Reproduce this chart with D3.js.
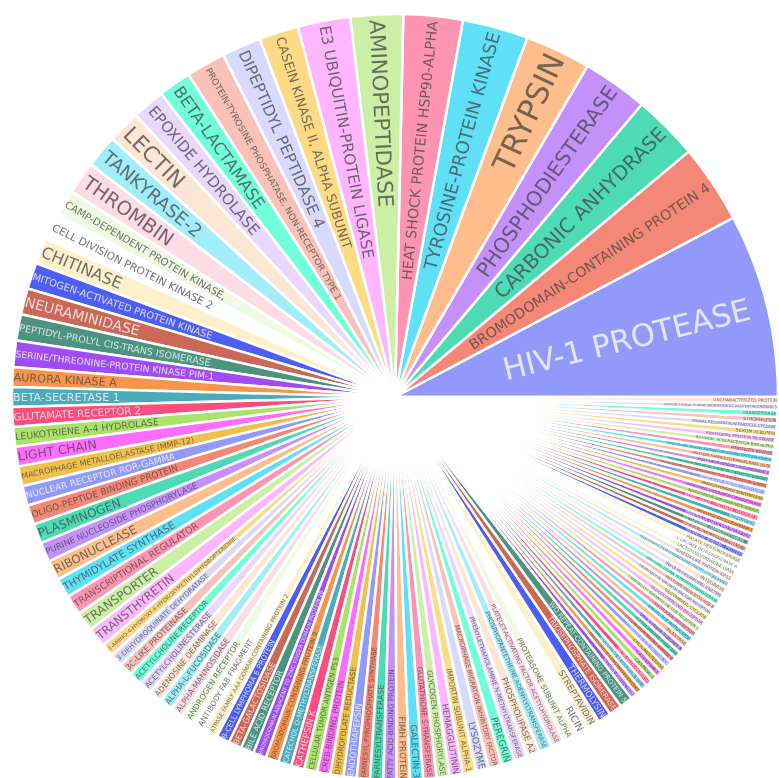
<!DOCTYPE html>
<html><head><meta charset="utf-8">
<script src="https://cdn.jsdelivr.net/npm/d3@7"></script>
<style>html,body{margin:0;padding:0;background:#fff;overflow:hidden}svg{display:block}text{font-family:"DejaVu Sans",Verdana,sans-serif}</style>
</head><body><svg id="c" width="779" height="778"></svg>
<script>
const labels = ["HIV-1 PROTEASE","BROMODOMAIN-CONTAINING PROTEIN 4","CARBONIC ANHYDRASE","PHOSPHODIESTERASE","TRYPSIN","TYROSINE-PROTEIN KINASE","HEAT SHOCK PROTEIN HSP90-ALPHA","AMINOPEPTIDASE","E3 UBIQUITIN-PROTEIN LIGASE","CASEIN KINASE II, ALPHA SUBUNIT","DIPEPTIDYL PEPTIDASE 4","PROTEIN-TYROSINE PHOSPHATASE, NON-RECEPTOR TYPE 1","BETA-LACTAMASE","EPOXIDE HYDROLASE","LECTIN","TANKYRASE-2","THROMBIN","CAMP-DEPENDENT PROTEIN KINASE,","CELL DIVISION PROTEIN KINASE 2","CHITINASE","MITOGEN-ACTIVATED PROTEIN KINASE","NEURAMINIDASE","PEPTIDYL-PROLYL CIS-TRANS ISOMERASE","SERINE/THREONINE-PROTEIN KINASE PIM-1","AURORA KINASE A","BETA-SECRETASE 1","GLUTAMATE RECEPTOR 2","LEUKOTRIENE A-4 HYDROLASE","LIGHT CHAIN","MACROPHAGE METALLOELASTASE (MMP-12)","NUCLEAR RECEPTOR ROR-GAMMA","OLIGO-PEPTIDE BINDING PROTEIN","PLASMINOGEN","PURINE NUCLEOSIDE PHOSPHORYLASE","RIBONUCLEASE","THYMIDYLATE SYNTHASE","TRANSCRIPTIONAL REGULATOR","TRANSPORTER","TRANSTHYRETIN","2-AMINO-4-HYDROXY-6-HYDROXYMETHYLDIHYDROPTERIDINE","3-DEHYDROQUINATE DEHYDRATASE","3C-LIKE PROTEINASE","ACETYLCHOLINE RECEPTOR","ACETYLCHOLINESTERASE","ADENOSINE DEAMINASE","ALPHA-L-FUCOSIDASE","ALPHA-MANNOSIDASE","ANDROGEN RECEPTOR","ANTIBODY FAB FRAGMENT","ATPASE FAMILY AAA DOMAIN-CONTAINING PROTEIN 2","B-CELL LYMPHOMA 6 PROTEIN","BETA-GALACTOSIDASE","BILE ACID RECEPTOR","BROMODOMAIN ADJACENT TO ZINC FINGER DOMAIN PROTEIN 2B","BROMODOMAIN-CONTAINING PROTEIN 9","CATECHOL O-METHYLTRANSFERASE","CATHEPSIN K","CELLULAR TUMOR ANTIGEN P53","CREB-BINDING PROTEIN","DIHYDROFOLATE REDUCTASE","ENDOTHIAPEPSIN","FARNESYL PYROPHOSPHATE SYNTHASE","FARNESYLTRANSFERASE","FATTY ACID-BINDING PROTEIN","FIMH PROTEIN","GALECTIN-3","GLUTATHIONE S-TRANSFERASE","GLYCOGEN PHOSPHORYLASE","HEMAGGLUTININ","IMPORTIN SUBUNIT ALPHA-1","LYSOZYME","MACROPHAGE MIGRATION INHIBITORY FACTOR","PEREGRIN","PHENYLETHANOLAMINE N-METHYLTRANSFERASE","PHOSPHOLIPASE A2","PHOSPHOPANTETHEINE ADENYLYLTRANSFERASE","PLATELET-ACTIVATING FACTOR ACETYLHYDROLASE","PROTEASOME SUBUNIT ALPHA","RICIN","STREPTAVIDIN","THERMOLYSIN","TRIOSEPHOSPHATE ISOMERASE","WD REPEAT-CONTAINING PROTEIN 5","ALDOSE REDUCTASE","ANGIOTENSIN-CONVERTING ENZYME","APOPTOSIS REGULATOR BCL-2","BETA-GLUCOSIDASE","CASPASE-3","CATHEPSIN S","CHOLINESTERASE","COAGULATION FACTOR XA","CYCLIN-DEPENDENT KINASE 8","CYTOCHROME P450 3A4","DNA GYRASE SUBUNIT B","ELASTASE","ENOYL-ACP REDUCTASE","ESTROGEN RECEPTOR","FIBROBLAST GROWTH FACTOR RECEPTOR 1","GLUCOCORTICOID RECEPTOR","GLUTAMINYL CYCLASE","HEPATOCYTE GROWTH FACTOR RECEPTOR","HISTONE DEACETYLASE 8","HISTONE-LYSINE N-METHYLTRANSFERASE","INSULIN-DEGRADING ENZYME","INTEGRASE","ISOCITRATE DEHYDROGENASE [NADP] CYTOPLASMIC","KINESIN-LIKE PROTEIN KIF11","LACTOYLGLUTATHIONE LYASE","L-LACTATE DEHYDROGENASE A","MALATE DEHYDROGENASE","MANNOSE-BINDING PROTEIN","MATRIX METALLOPROTEINASE-9","METHIONINE AMINOPEPTIDASE 2","MINERALOCORTICOID RECEPTOR","MYELOID CELL LEUKEMIA 1","NEPRILYSIN","NITRIC OXIDE SYNTHASE, INDUCIBLE","NUCLEOSIDE DIPHOSPHATE KINASE","ORNITHINE CARBAMOYLTRANSFERASE","PANTOTHENATE SYNTHETASE","PENICILLIN-BINDING PROTEIN 3","PEROXISOME PROLIFERATOR-ACTIVATED RECEPTOR GAMMA","PHOSPHATIDYLINOSITOL 3-KINASE CATALYTIC SUBUNIT","POLY [ADP-RIBOSE] POLYMERASE 1","PROTEIN FARNESYLTRANSFERASE BETA","PROTO-ONCOGENE SERINE/THREONINE-PROTEIN KINASE","PYRUVATE KINASE","RETINOIC ACID RECEPTOR RXR-ALPHA","RIBOSOMAL PROTEIN S6 KINASE","SERUM ALBUMIN","SIGNAL RECOGNITION PARTICLE CYCLASE","STROMELYSIN","TRANSFERASE","TRIFUNCTIONAL PURINE BIOSYNTHETIC PROTEIN ADENOSINE-3","UNCHARACTERIZED PROTEIN"];
const counts = [28,12,10,10,10,10,9,8,8,6,6,6,5,5,5,5,5,4,4,4,4,4,4,4,3,3,3,3,3,3,3,3,3,3,3,3,3,3,3,2,2,2,2,2,2,2,2,2,2,2,2,2,2,2,2,2,2,2,2,2,2,2,2,2,2,2,2,2,2,2,2,2,2,2,2,2,2,2,2,2,2,2,2,1,1,1,1,1,1,1,1,1,1,1,1,1,1,1,1,1,1,1,1,1,1,1,1,1,1,1,1,1,1,1,1,1,1,1,1,1,1,1,1,1,1,1,1,1,1,1,1,1,1,1,1];
const baseColors = ["#636EFA","#EF553B","#00CC96","#AB63FA","#FFA15A","#19D3F3","#FF6692","#B6E880","#FF97FF","#FECB52"];

const W = 779, H = 778, cx = 395, cy = 397, R = 383;
const lift = (c, d) => { const h = d3.hsl(c); h.l = Math.min(1, Math.max(0, h.l + d)); return h.formatHex(); };
const colorway = [...baseColors, ...baseColors.map(c => lift(c, .2)), ...baseColors.map(c => lift(c, -.2))];
const color = d3.scaleOrdinal().domain(d3.range(colorway.length)).range(colorway);
const contrast = c => { const r = d3.rgb(c); return (r.r*299 + r.g*587 + r.b*114)/1000 < 128 ? "#ffffff" : "#444444"; };

const pie = d3.pie().sort(null).value(d => d.v).startAngle(Math.PI/2).endAngle(Math.PI/2 - 2*Math.PI);
const arc = d3.arc().innerRadius(0).outerRadius(R);
const data = labels.map((l, i) => ({l, v: counts[i], i}));

const svg = d3.select("#c");
const defs = svg.append("defs");
defs.append("filter").attr("id", "soft").attr("filterUnits", "userSpaceOnUse")
  .attr("x", 0).attr("y", 0).attr("width", W).attr("height", H)
  .append("feGaussianBlur").attr("stdDeviation", .45);
const g = svg.append("g").attr("filter", "url(#soft)").append("g").attr("transform", `translate(${cx},${cy})`);
const slices = g.selectAll("g.s").data(pie(data)).join("g").attr("class", "s");
slices.append("path").attr("d", arc)
  .attr("fill", d => color(d.data.i % 30)).attr("fill-opacity", .7)
  .attr("stroke", "#fff").attr("stroke-width", 2.5);

const BBH = 1.164, TEXTPAD = 3, MAXFONT = 30.7, CAPSHIFT = .8, CAPWIDTH = 4.2;
const rad = Math.PI / 180;
const fitScale = d3.scaleLinear().domain([2 * rad, 2.5 * rad]).range([.94, .97]).clamp(true);
const padScale = d3.scaleLinear().domain([2 * rad, 2.5 * rad]).range([1, 5]).clamp(true);
slices.append("text")
  .text(d => d.data.l)
  .attr("font-size", 100)
  .attr("fill", d => contrast(color(d.data.i % 30)))
  .attr("fill-opacity", .75)
  .attr("text-anchor", "middle")
  .each(function(d) {
    const wEm = this.getComputedTextLength() / 100;
    const half = Math.abs(d.endAngle - d.startAngle) / 2;
    const mid = Math.PI/2 - (d.startAngle + d.endAngle) / 2;  // counter-clockwise from 3 o'clock
    const r = R - 2 * TEXTPAD;
    const a = wEm / BBH;
    const q = a + 1 / (2 * Math.tan(half));
    const s = r * Math.min(1 / (Math.sqrt(q*q + .5) + q), 1 / (Math.sqrt(a*a + .5) + a));
    const fit = fitScale(half) * 2 * s / BBH;
    const font = Math.min(MAXFONT, fit);
    const hh = font * BBH / 2, hw = font * wEm / 2;
    const posR = R - padScale(half);
    // a capped label stays near where its uncapped size would have put it
    const rc = Math.sqrt(Math.max(0, posR*posR - hh*hh)) - hw - (fit - font) * Math.max(0, wEm - CAPWIDTH) * CAPSHIFT;
    const x = rc * Math.cos(mid), y = -rc * Math.sin(mid);
    const deg = mid * 180 / Math.PI;
    const rot = Math.cos(mid) >= 0 ? -deg : 180 - deg;
    d3.select(this).attr("font-size", font.toFixed(2))
      .attr("dy", ".346em")
      .attr("transform", `translate(${x.toFixed(2)},${y.toFixed(2)}) rotate(${rot.toFixed(2)})`);
  });
</script></body></html>
